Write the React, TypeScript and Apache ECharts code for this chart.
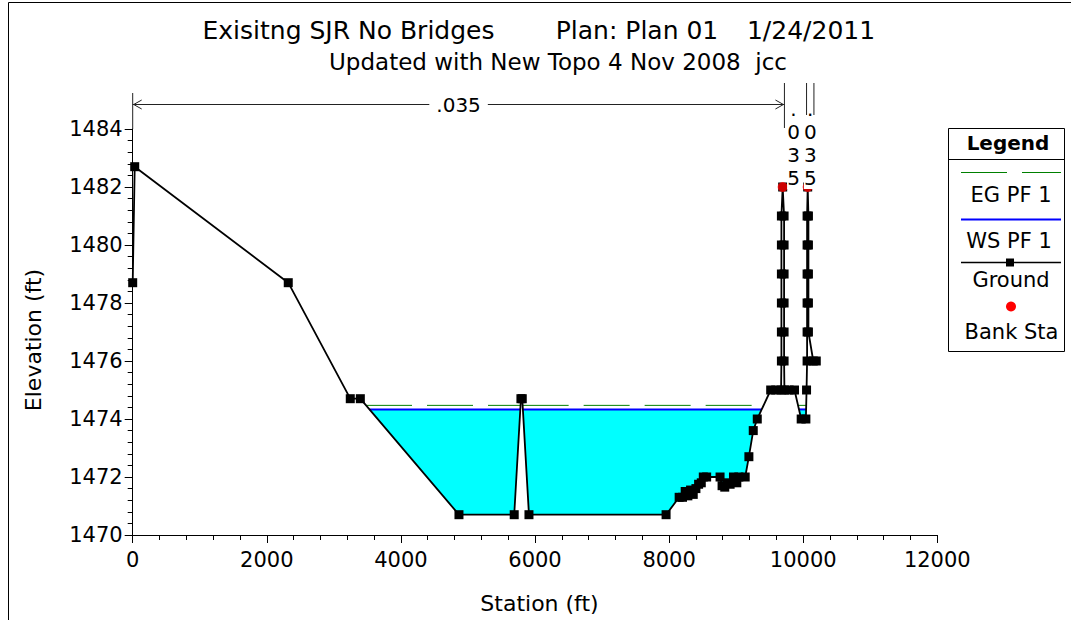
import React, { useEffect, useRef } from 'react';
import * as echarts from 'echarts';

const FONT = 'DejaVu Sans';

// ---- data ----
const groundStation = [
  0, 30, 2320, 3245, 3395, 4866, 5690, 5790, 5810, 5910, 7955,
  8150, 8200, 8240, 8280, 8320, 8360, 8400, 8440, 8480, 8510, 8560,
  8760, 8790, 8830, 8870, 8910, 8960, 9010, 9040, 9135, 9190, 9255, 9315,
  9515, 9590, 9670,
  9675, 9675, 9675, 9675, 9675, 9675, 9694,
  9715, 9715, 9715, 9715, 9715, 9715, 9720,
  9790, 9870, 9970, 10040, 10050,
  10058, 10058, 10058, 10058, 10058, 10058, 10067,
  10078, 10078, 10078, 10078, 10078,
  10150, 10195,
];
const groundElev = [
  1478.7, 1482.7, 1478.7, 1474.7, 1474.7, 1470.7, 1470.7, 1474.7, 1474.7, 1470.7, 1470.7,
  1471.3, 1471.3, 1471.5, 1471.35, 1471.55, 1471.4, 1471.6, 1471.75, 1471.8, 1472.0, 1472.0,
  1472.0, 1471.7, 1471.65, 1471.8, 1471.75, 1472.0, 1471.8, 1472.0, 1472.0, 1472.7, 1473.6, 1474.0,
  1475, 1475, 1475,
  1476, 1477, 1478, 1479, 1480, 1481, 1482,
  1481, 1480, 1479, 1478, 1477, 1476, 1475,
  1475, 1475, 1474, 1474, 1475,
  1476, 1477, 1478, 1479, 1480, 1481, 1482,
  1481, 1480, 1479, 1478, 1477,
  1476, 1476,
];
const bankStation = [9694, 10067];
const bankElev = [1482, 1482];
const wsElev = 1474.33;
const egElev = 1474.47;
const nBreakStation = [0, 9720, 10050, 10160];
const nValueLabels = ['.035', '.035', '.035'];

const xMin = 0, xMax = 12000, xInterval = 2000;
const yMin = 1470, yMax = 1484, yInterval = 2;

const titleParts = ['Exisitng SJR No Bridges', 'Plan: Plan 01', '1/24/2011'];
const subtitle = 'Updated with New Topo 4 Nov 2008  jcc';
const legendItems = ['EG PF 1', 'WS PF 1', 'Ground', 'Bank Sta'];

// wet regions of the ground profile below a level
function wetSpans(level: number): number[][][] {
  const spans: number[][][] = [];
  let cur: number[][] | null = null;
  for (let i = 0; i < groundStation.length; i++) {
    const x = groundStation[i], y = groundElev[i];
    if (i > 0) {
      const px = groundStation[i - 1], py = groundElev[i - 1];
      if ((py - level) * (y - level) < 0) {
        const cx = px + ((level - py) / (y - py)) * (x - px);
        if (py > level) cur = [[cx, level]];
        else if (cur) { cur.push([cx, level]); spans.push(cur); cur = null; }
      }
    }
    if (cur && y < level) cur.push([x, y]);
  }
  return spans;
}

export default function App() {
  const ref = useRef<HTMLDivElement>(null);
  useEffect(() => {
    if (!ref.current) return;
    const chart = echarts.init(ref.current, null, { renderer: 'svg' });
    const waterPolys = wetSpans(wsElev);
    const egSpans = wetSpans(egElev);
    const axisText = { fontFamily: FONT, fontSize: 21, color: '#000', formatter: (v: number) => String(v) };

    const lineSeries = (name: string, spans: number[][][], level: number, style: any, z: number) => ({
      type: 'custom', name, z, silent: true,
      data: spans.map((s) => [s[0][0], s[s.length - 1][0], level]),
      encode: { x: [0, 1], y: 2 },
      renderItem: (params: any, api: any) => {
        const a = api.coord([api.value(0), api.value(2)]);
        const b = api.coord([api.value(1), api.value(2)]);
        return { type: 'line', shape: { x1: a[0], y1: a[1], x2: b[0], y2: b[1] }, style };
      },
    });

    chart.setOption({
      animation: false,
      backgroundColor: '#ffffff',
      grid: { left: 132.7, top: 129, width: 804.6, height: 406 },
      xAxis: {
        type: 'value', min: xMin, max: xMax, interval: xInterval,
        name: 'Station (ft)', nameLocation: 'middle', nameGap: 57,
        nameTextStyle: { fontFamily: FONT, fontSize: 22, color: '#000', padding: [0, 0, 0, 9] },
        axisLine: { show: true, onZero: false, lineStyle: { color: '#000', width: 1 } },
        axisTick: { show: true, length: 8, lineStyle: { color: '#000' } },
        minorTick: { show: true, splitNumber: 5, length: 5, lineStyle: { color: '#000' } },
        splitLine: { show: false },
        axisLabel: { ...axisText, margin: 14 },
      },
      yAxis: {
        type: 'value', min: yMin, max: yMax, interval: yInterval,
        name: 'Elevation (ft)', nameLocation: 'middle', nameGap: 88,
        nameTextStyle: { fontFamily: FONT, fontSize: 22, color: '#000', padding: [0, 16, 0, 0] },
        axisLine: { show: true, onZero: false, lineStyle: { color: '#000', width: 1 } },
        axisTick: { show: true, length: 8, lineStyle: { color: '#000' } },
        minorTick: { show: true, splitNumber: 5, length: 5, lineStyle: { color: '#000' } },
        splitLine: { show: false },
        axisLabel: { ...axisText, margin: 10 },
      },
      series: [
        {
          type: 'custom', name: 'Water', z: 1, silent: true,
          data: waterPolys.map((p, i) => [p[0][0], wsElev, i]),
          encode: { x: 0, y: 1 },
          renderItem: (params: any, api: any) => {
            const poly = waterPolys[params.dataIndex];
            return {
              type: 'polygon',
              shape: { points: poly.map((pt) => api.coord(pt)) },
              style: { fill: '#00FFFF', stroke: 'none' },
            };
          },
        },
        lineSeries('EG PF 1', egSpans, egElev, { stroke: '#008000', lineWidth: 1, lineDash: [46, 15] }, 2),
        lineSeries('WS PF 1', waterPolys, wsElev, { stroke: '#0000FF', lineWidth: 2 }, 2),
        {
          type: 'line', name: 'Ground', z: 3,
          data: groundStation.map((s, i) => [s, groundElev[i]]),
          symbol: 'rect', symbolSize: 9, showSymbol: true,
          lineStyle: { color: '#000', width: 1.8 },
          itemStyle: { color: '#000' },
        },
        {
          type: 'scatter', name: 'Bank Sta', z: 4,
          data: bankStation.map((s, i) => [s, bankElev[i]]),
          symbol: 'circle', symbolSize: 10,
          itemStyle: { color: '#FF0000' },
        },
      ],
    });

    const toX = (s: number) => (chart.convertToPixel({ gridIndex: 0 }, [s, yMin]) as number[])[0];
    const x0 = toX(nBreakStation[0]);
    const xTop = (chart.convertToPixel({ gridIndex: 0 }, [0, yMax]) as number[])[1];
    const arrowY = 104.5;
    const stroke = { stroke: '#222', lineWidth: 1 };
    const g: any[] = [];
    // frame
    g.push({ type: 'polyline', shape: { points: [[8.5, 620], [8.5, 2.5], [1071, 2.5]] }, style: { stroke: '#000', lineWidth: 1, fill: 'none' } });
    // titles
    const titleX = [348.5, 637, 811];
    titleParts.forEach((t, i) => g.push({ type: 'text', x: titleX[i], y: 30, style: { text: t, font: `25px "${FONT}"`, fill: '#000', textAlign: 'center', textVerticalAlign: 'middle' } }));
    g.push({ type: 'text', x: 558, y: 62, style: { text: subtitle, font: `23px "${FONT}"`, fill: '#000', textAlign: 'center', textVerticalAlign: 'middle' } });
    // n-value annotation
    g.push({ type: 'line', shape: { x1: x0, y1: 93, x2: x0, y2: xTop }, style: stroke, z: 50 });
    const x1 = toX(nBreakStation[1]);
    g.push({ type: 'line', shape: { x1: x0, y1: arrowY, x2: x1, y2: arrowY }, style: stroke, z: 50 });
    g.push({ type: 'polyline', shape: { points: [[x0 + 9, arrowY - 4.5], [x0 + 1, arrowY], [x0 + 9, arrowY + 4.5]] }, style: { ...stroke, fill: 'none' }, z: 50 });
    g.push({ type: 'polyline', shape: { points: [[x1 - 9, arrowY - 4.5], [x1 - 1, arrowY], [x1 - 9, arrowY + 4.5]] }, style: { ...stroke, fill: 'none' }, z: 50 });
    g.push({ type: 'text', x: (x0 + x1) / 2, y: arrowY, z: 51, style: { text: nValueLabels[0], font: `20px "${FONT}"`, fill: '#000', textAlign: 'center', textVerticalAlign: 'middle', backgroundColor: '#fff', padding: [2, 7] } });
    for (let i = 1; i < nBreakStation.length; i++) {
      const xb = toX(nBreakStation[i]);
      g.push({ type: 'line', shape: { x1: xb, y1: 83, x2: xb, y2: i === 1 ? 128 : 115 }, style: stroke, z: 52 });
      if (i < nBreakStation.length - 1) {
        const xc = (xb + toX(nBreakStation[i + 1])) / 2;
        g.push({ type: 'text', x: xc - (i === 1 ? 2 : 0), y: 97, z: 50, style: { text: nValueLabels[i].split('').join('\n'), font: `20px "${FONT}"`, lineHeight: 23, fill: '#000', textAlign: 'center', textVerticalAlign: 'top', backgroundColor: '#fff' } });
      }
    }
    // legend box
    const lx = 948.5, ly = 128.5, lw = 116, lh = 223;
    const lc = 1008;
    g.push({ type: 'rect', shape: { x: lx, y: ly, width: lw, height: lh }, style: { fill: '#fff', stroke: '#000', lineWidth: 1 }, z: 60 });
    g.push({ type: 'line', shape: { x1: lx, y1: 159.5, x2: lx + lw, y2: 159.5 }, style: { stroke: '#000', lineWidth: 1 }, z: 61 });
    g.push({ type: 'text', x: lc, y: 143, z: 61, style: { text: 'Legend', font: `bold 20px "${FONT}"`, fill: '#000', textAlign: 'center', textVerticalAlign: 'middle' } });
    g.push({ type: 'line', shape: { x1: 961, y1: 172.5, x2: 1061, y2: 172.5 }, style: { stroke: '#008000', lineWidth: 1, lineDash: [46, 15] }, z: 61 });
    g.push({ type: 'line', shape: { x1: 961, y1: 219.5, x2: 1061, y2: 219.5 }, style: { stroke: '#0000FF', lineWidth: 2 }, z: 61 });
    g.push({ type: 'line', shape: { x1: 961, y1: 262.5, x2: 1061, y2: 262.5 }, style: { stroke: '#000', lineWidth: 1.5 }, z: 61 });
    g.push({ type: 'rect', shape: { x: 1006, y: 258.5, width: 8, height: 8 }, style: { fill: '#000' }, z: 62 });
    g.push({ type: 'circle', shape: { cx: 1011, cy: 306.5, r: 5 }, style: { fill: '#FF0000' }, z: 62 });
    const legendY = [195, 240.5, 280, 331.5];
    const legendX = [1011, 1009, 1011, 1011.5];
    legendItems.forEach((t, i) => g.push({ type: 'text', x: legendX[i], y: legendY[i], z: 61, style: { text: t, font: `21px "${FONT}"`, fill: '#000', textAlign: 'center', textVerticalAlign: 'middle' } }));

    chart.setOption({ graphic: g });
    return () => chart.dispose();
  }, []);
  return <div ref={ref} style={{ position: 'absolute', left: 0, top: 0, width: 1071, height: 620 }} />;
}
